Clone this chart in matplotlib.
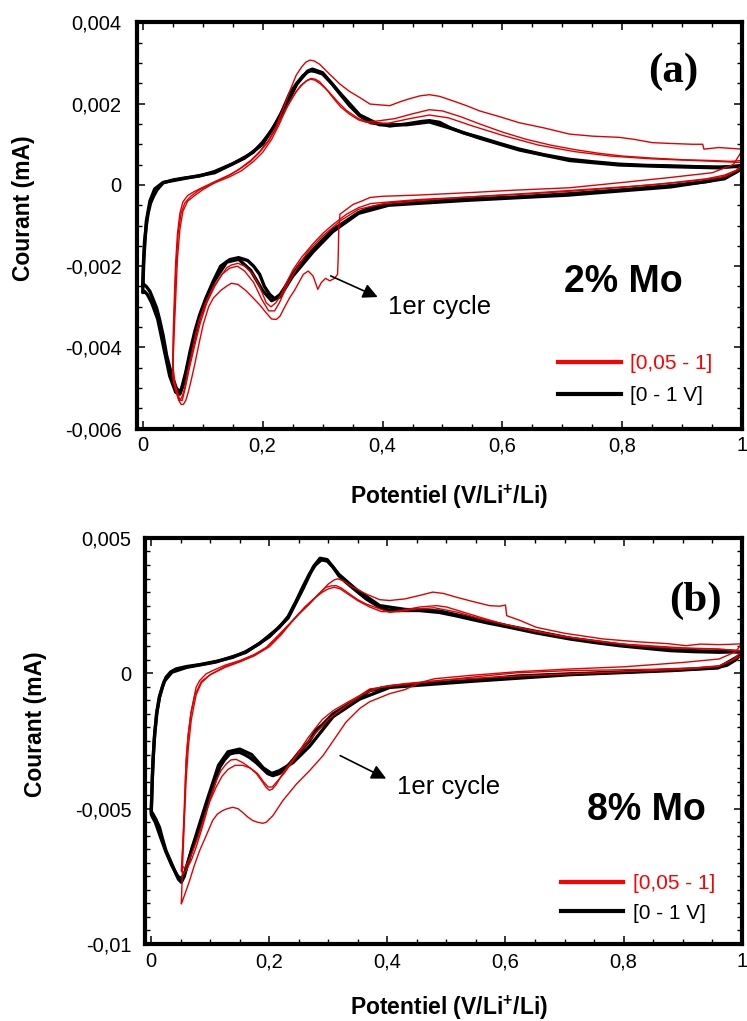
import matplotlib
matplotlib.use('Agg')
import matplotlib.pyplot as plt
from matplotlib.lines import Line2D
from matplotlib.ticker import MultipleLocator, FuncFormatter

# ---------- panel (a) : 2% Mo ----------
# black = [0 - 1 V] cycles, red = [0,05 - 1] cycles (r1 = first cycle)
a_blk1_v = [1.0, 0.99, 0.97, 0.94, 0.88, 0.80, 0.71, 0.62, 0.54, 0.46, 0.41, 0.38, 0.36, 0.34, 0.317,
            0.30, 0.284, 0.265, 0.25, 0.238, 0.229, 0.22, 0.212, 0.203, 0.195, 0.185, 0.175, 0.16, 0.145,
            0.13, 0.118, 0.105, 0.095, 0.087, 0.079, 0.072, 0.065, 0.062, 0.056, 0.048, 0.04, 0.034,
            0.028, 0.023, 0.017, 0.012, 0.006, 0.002, 0.0,
            0.0, 0.001, 0.003, 0.006, 0.009, 0.013, 0.018, 0.024, 0.034, 0.05, 0.07, 0.095, 0.12, 0.15,
            0.17, 0.184, 0.2, 0.217, 0.232, 0.245, 0.257, 0.267, 0.275, 0.281, 0.288, 0.30, 0.315, 0.329,
            0.345, 0.362, 0.38, 0.395, 0.412, 0.44, 0.465, 0.478, 0.495, 0.512, 0.535, 0.562, 0.595,
            0.628, 0.67, 0.712, 0.75, 0.795, 0.84, 0.878, 0.92, 0.961, 0.985, 1.0]
a_blk1_i = [0.00045, 0.00032, 0.00018, 0.00008, -0.00002, -0.00012, -0.00022, -0.0003, -0.00035, -0.0004,
            -0.00047, -0.00056, -0.00068, -0.00088, -0.0011, -0.00135, -0.0016, -0.0019, -0.0022, -0.0025,
            -0.0027, -0.0028, -0.0027, -0.0025, -0.0022, -0.002, -0.00186, -0.00179, -0.00184, -0.002,
            -0.00236, -0.0028, -0.0032, -0.0036, -0.0041, -0.0046, -0.005, -0.0051, -0.005, -0.00466,
            -0.0042, -0.0037, -0.0033, -0.00302, -0.0028, -0.00262, -0.0025, -0.00245, -0.0025,
            -0.0025, -0.002, -0.0014, -0.001, -0.0007, -0.00045, -0.00028, -0.00012, 0.00005, 0.00012,
            0.00017, 0.00022, 0.00033, 0.00052, 0.00068, 0.0008, 0.00105, 0.00138, 0.0018, 0.00224,
            0.0025, 0.00268, 0.00278, 0.00281, 0.00279, 0.00273, 0.0025, 0.00224, 0.00195, 0.0017,
            0.00153, 0.0015, 0.00145, 0.0015, 0.00156, 0.00158, 0.00154, 0.00141, 0.00128, 0.00117,
            0.00102, 0.00088, 0.00074, 0.00063, 0.00057, 0.00051, 0.00048, 0.00047, 0.00045, 0.00044,
            0.00045, 0.00045]
a_blk2_v = [1.0, 0.97, 0.88, 0.71, 0.54, 0.41, 0.36, 0.317, 0.284, 0.25, 0.229, 0.215, 0.2, 0.18, 0.16,
            0.14, 0.118, 0.095, 0.079, 0.068, 0.062, 0.055, 0.045, 0.035, 0.025, 0.015, 0.008, 0.003, 0.0,
            0.0, 0.002, 0.006, 0.012, 0.02, 0.034, 0.07, 0.12, 0.17, 0.2, 0.232, 0.257, 0.275, 0.283, 0.3,
            0.329, 0.362, 0.395, 0.44, 0.478, 0.512, 0.562, 0.628, 0.712, 0.795, 0.878, 0.961, 1.0]
a_blk2_i = [0.0004, 0.00015, -0.00005, -0.00025, -0.00038, -0.0005, -0.0007, -0.00115, -0.00165, -0.00225,
            -0.00275, -0.00285, -0.0026, -0.0021, -0.00183, -0.0019, -0.0024, -0.00325, -0.0042, -0.0049,
            -0.00515, -0.0051, -0.0047, -0.004, -0.0033, -0.0029, -0.0027, -0.00262, -0.00265,
            -0.00265, -0.0018, -0.0009, -0.0004, -0.0001, 0.00006, 0.00016, 0.0003, 0.00066, 0.001,
            0.00175, 0.00248, 0.0028, 0.00285, 0.00276, 0.00226, 0.00172, 0.00148, 0.00148, 0.00155,
            0.0014, 0.00115, 0.00086, 0.0006, 0.00049, 0.00045, 0.00042, 0.00048]
a_red1_v = [1.0, 0.985, 0.95, 0.878, 0.80, 0.712, 0.62, 0.545, 0.46, 0.40, 0.379, 0.365, 0.351, 0.34, 0.329,
            0.327, 0.326, 0.325, 0.32, 0.312, 0.305, 0.298, 0.292, 0.288, 0.284, 0.276, 0.268, 0.262,
            0.253, 0.245, 0.237, 0.229, 0.223, 0.215, 0.206, 0.195, 0.184, 0.172, 0.159, 0.148, 0.14,
            0.13, 0.118, 0.11, 0.101, 0.094, 0.087, 0.081, 0.076, 0.072, 0.068, 0.064, 0.06, 0.056,
            0.052, 0.05,
            0.05, 0.052, 0.055, 0.058, 0.062, 0.067, 0.075, 0.085, 0.1, 0.123, 0.145, 0.162, 0.18, 0.195,
            0.21, 0.223, 0.235, 0.245, 0.256, 0.265, 0.272, 0.279, 0.286, 0.295, 0.31, 0.329, 0.345,
            0.362, 0.379, 0.395, 0.412, 0.43, 0.445, 0.462, 0.478, 0.495, 0.517, 0.54, 0.562, 0.595,
            0.628, 0.67, 0.712, 0.75, 0.795, 0.82, 0.85, 0.88, 0.917, 0.934, 0.936, 0.961, 0.98, 1.0]
a_red1_i = [0.00085, 0.0005, 0.0003, 0.00018, 0.00006, -0.00007, -0.00013, -0.00019, -0.00025, -0.00028,
            -0.00031, -0.0004, -0.00048, -0.0006, -0.00072, -0.0011, -0.0018, -0.0022, -0.0023, -0.00236,
            -0.0023, -0.0024, -0.00257, -0.0024, -0.00224, -0.00212, -0.0022, -0.00236, -0.0026, -0.00278,
            -0.003, -0.00323, -0.00331, -0.0033, -0.00315, -0.00295, -0.00278, -0.0026, -0.00245, -0.00242,
            -0.00249, -0.0026, -0.00278, -0.003, -0.00343, -0.0039, -0.0044, -0.0048, -0.0051, -0.0053,
            -0.0054, -0.0054, -0.0053, -0.0051, -0.0049, -0.0047,
            -0.0047, -0.0038, -0.0028, -0.0018, -0.0011, -0.00065, -0.0004, -0.00028, -0.00012, 0.00008,
            0.00024, 0.0004, 0.0006, 0.00082, 0.0011, 0.00145, 0.0019, 0.0023, 0.0027, 0.0029, 0.00302,
            0.00307, 0.00305, 0.00297, 0.00275, 0.00248, 0.0023, 0.00215, 0.00199, 0.00197, 0.00195,
            0.00205, 0.00212, 0.00219, 0.00222, 0.00218, 0.00207, 0.00195, 0.00182, 0.00168, 0.00153,
            0.0014, 0.00125, 0.0012, 0.00117, 0.00112, 0.00104, 0.00102, 0.001, 0.001, 0.00088, 0.00092,
            0.0009, 0.00088]
a_red2_v = [1.0, 0.99, 0.97, 0.94, 0.88, 0.80, 0.71, 0.62, 0.54, 0.46, 0.41, 0.38, 0.36, 0.34, 0.317, 0.30,
            0.284, 0.265, 0.251, 0.24, 0.231, 0.222, 0.214, 0.206, 0.195, 0.184, 0.17, 0.159, 0.148, 0.14,
            0.128, 0.118, 0.105, 0.095, 0.088, 0.081, 0.075, 0.07, 0.066, 0.062, 0.058, 0.054, 0.05,
            0.05, 0.051, 0.053, 0.055, 0.058, 0.062, 0.067, 0.075, 0.084, 0.1, 0.123, 0.145, 0.162, 0.18,
            0.195, 0.21, 0.223, 0.235, 0.245, 0.256, 0.267, 0.275, 0.281, 0.288, 0.295, 0.305, 0.317,
            0.33, 0.345, 0.36, 0.373, 0.395, 0.42, 0.45, 0.478, 0.5, 0.53, 0.562, 0.6, 0.64, 0.68, 0.72,
            0.76, 0.8, 0.85, 0.9, 0.95, 0.98, 1.0]
a_red2_i = [0.0005, 0.00036, 0.00024, 0.00015, 0.00005, -0.00006, -0.00016, -0.00024, -0.0003, -0.00036,
            -0.00042, -0.00046, -0.00056, -0.00072, -0.00098, -0.0012, -0.00145, -0.00178, -0.00208, -0.0024,
            -0.0027, -0.0029, -0.003, -0.0029, -0.0025, -0.0022, -0.002, -0.00193, -0.00197, -0.00204,
            -0.0023, -0.0025, -0.0029, -0.0033, -0.0037, -0.0042, -0.0046, -0.005, -0.0052, -0.0053,
            -0.0051, -0.0049, -0.0044,
            -0.0044, -0.0036, -0.0027, -0.0019, -0.0012, -0.0007, -0.00042, -0.00026, -0.00018, -0.00006,
            0.0001, 0.00025, 0.00039, 0.00058, 0.0008, 0.00108, 0.00141, 0.00175, 0.00203, 0.0023,
            0.00248, 0.00258, 0.00262, 0.0026, 0.00254, 0.00238, 0.00215, 0.00192, 0.00174, 0.0016,
            0.00154, 0.00158, 0.00163, 0.00175, 0.00185, 0.00182, 0.00168, 0.0015, 0.0013, 0.00112,
            0.00098, 0.00087, 0.00078, 0.00071, 0.00066, 0.00062, 0.0006, 0.00058, 0.0006]
a_red3_v = [1.0, 0.97, 0.92, 0.85, 0.75, 0.65, 0.55, 0.46, 0.40, 0.36, 0.33, 0.30, 0.275, 0.255, 0.24, 0.228,
            0.22, 0.21, 0.198, 0.185, 0.17, 0.158, 0.145, 0.132, 0.12, 0.107, 0.096, 0.086, 0.078, 0.071,
            0.066, 0.061, 0.056, 0.052, 0.05,
            0.05, 0.052, 0.055, 0.059, 0.064, 0.07, 0.08, 0.095, 0.12, 0.145, 0.165, 0.185, 0.2, 0.215,
            0.228, 0.24, 0.252, 0.263, 0.273, 0.28, 0.287, 0.297, 0.31, 0.325, 0.34, 0.36, 0.38, 0.41,
            0.445, 0.478, 0.51, 0.55, 0.6, 0.66, 0.72, 0.78, 0.85, 0.92, 0.97, 1.0]
a_red3_i = [0.00042, 0.0002, 0.0001, 0.0, -0.0001, -0.0002, -0.00029, -0.00039, -0.00047, -0.0006, -0.00088,
            -0.00126, -0.00165, -0.0021, -0.0025, -0.0029, -0.0031, -0.0031, -0.0028, -0.0024, -0.00212,
            -0.002, -0.00205, -0.0022, -0.0025, -0.0029, -0.0034, -0.004, -0.0045, -0.005, -0.0053,
            -0.0053, -0.0051, -0.0048, -0.0046,
            -0.0046, -0.0035, -0.0022, -0.0012, -0.0007, -0.00045, -0.00028, -0.00012, 0.00005, 0.0002,
            0.00035, 0.00058, 0.0008, 0.00112, 0.0015, 0.0019, 0.0022, 0.00244, 0.00256, 0.0026, 0.00258,
            0.00248, 0.0023, 0.00205, 0.00183, 0.00163, 0.00152, 0.00152, 0.00163, 0.00172, 0.00165,
            0.00145, 0.00122, 0.00098, 0.00082, 0.00071, 0.00064, 0.0006, 0.00057, 0.00055]

# ---------- panel (b) : 8% Mo ----------
b_blk1_v = [1.0, 0.99, 0.975, 0.96, 0.92, 0.878, 0.80, 0.709, 0.62, 0.539, 0.454, 0.404, 0.37, 0.353, 0.33,
            0.308, 0.29, 0.279, 0.268, 0.251, 0.24, 0.228, 0.217, 0.206, 0.197, 0.189, 0.178, 0.166, 0.158,
            0.15, 0.142, 0.133, 0.124, 0.116, 0.105, 0.093, 0.082, 0.07, 0.062, 0.056, 0.051, 0.046,
            0.042, 0.034, 0.025, 0.019, 0.014, 0.008, 0.003, 0.0,
            0.0, 0.001, 0.003, 0.006, 0.01, 0.014, 0.019, 0.025, 0.033, 0.042, 0.06, 0.082, 0.11, 0.138,
            0.16, 0.183, 0.2, 0.217, 0.232, 0.246, 0.257, 0.268, 0.278, 0.288, 0.298, 0.308, 0.318, 0.33,
            0.347, 0.364, 0.387, 0.404, 0.43, 0.454, 0.488, 0.515, 0.539, 0.57, 0.607, 0.65, 0.709, 0.75,
            0.793, 0.84, 0.878, 0.92, 0.962, 0.985, 1.0]
b_blk1_i = [0.00075, 0.0005, 0.0003, 0.00022, 0.00016, 0.00012, 0.00005, -0.00002, -0.0001, -0.00027,
            -0.00039, -0.00049, -0.00064, -0.00089, -0.0012, -0.0015, -0.0019, -0.0021, -0.0025, -0.0029,
            -0.0032, -0.0035, -0.0037, -0.00378, -0.0037, -0.00353, -0.0033, -0.0031, -0.003, -0.00292,
            -0.00293, -0.00298, -0.0032, -0.00347, -0.0042, -0.00495, -0.0057, -0.00643, -0.007, -0.0075,
            -0.00772, -0.0076, -0.00741, -0.007, -0.00655, -0.0061, -0.00569, -0.0054, -0.0052, -0.0051,
            -0.0051, -0.0045, -0.0032, -0.0022, -0.0014, -0.0009, -0.0005, -0.00015, 0.00005, 0.00016,
            0.00025, 0.00032, 0.00044, 0.00059, 0.0008, 0.00109, 0.0014, 0.0017, 0.0021, 0.00269, 0.0032,
            0.00367, 0.004, 0.00419, 0.00415, 0.00392, 0.0036, 0.00336, 0.00305, 0.00275, 0.00244,
            0.00232, 0.00232, 0.00232, 0.00225, 0.00213, 0.00201, 0.00186, 0.0017, 0.0015, 0.00127,
            0.00114, 0.00102, 0.00092, 0.00084, 0.0008, 0.00078, 0.0008, 0.00078]
b_blk2_v = [1.0, 0.96, 0.88, 0.709, 0.539, 0.404, 0.353, 0.308, 0.268, 0.24, 0.217, 0.204, 0.19, 0.17, 0.15,
            0.13, 0.114, 0.093, 0.07, 0.058, 0.052, 0.045, 0.035, 0.025, 0.015, 0.007, 0.002, 0.0,
            0.0, 0.002, 0.005, 0.009, 0.014, 0.022, 0.035, 0.06, 0.11, 0.16, 0.2, 0.232, 0.257, 0.275,
            0.286, 0.298, 0.318, 0.347, 0.387, 0.43, 0.488, 0.539, 0.607, 0.709, 0.793, 0.878, 0.962, 1.0]
b_blk2_i = [0.0007, 0.0002, 0.0001, -0.00005, -0.0003, -0.00052, -0.00095, -0.0016, -0.0027, -0.0033,
            -0.0036, -0.0037, -0.0035, -0.003, -0.0028, -0.0029, -0.0034, -0.0048, -0.0064, -0.0073,
            -0.0076, -0.0075, -0.0071, -0.0066, -0.006, -0.0055, -0.0053, -0.0052,
            -0.0052, -0.0038, -0.0025, -0.0015, -0.00085, -0.0003, 0.00004, 0.00022, 0.00042, 0.00077,
            0.00135, 0.00205, 0.00312, 0.00395, 0.00425, 0.0042, 0.00365, 0.0031, 0.0025, 0.00236,
            0.0023, 0.00206, 0.00174, 0.0013, 0.00105, 0.00087, 0.0008, 0.0008]
b_red1_v = [1.0, 0.99, 0.962, 0.9, 0.8, 0.709, 0.62, 0.539, 0.48, 0.454, 0.43, 0.404, 0.387, 0.37, 0.353,
            0.33, 0.308, 0.291, 0.268, 0.246, 0.223, 0.206, 0.195, 0.189, 0.18, 0.172, 0.163, 0.155,
            0.147, 0.138, 0.129, 0.121, 0.112, 0.104, 0.093, 0.082, 0.073, 0.065, 0.058, 0.051,
            0.051, 0.053, 0.056, 0.059, 0.063, 0.068, 0.076, 0.085, 0.1, 0.125, 0.15, 0.175, 0.195,
            0.215, 0.234, 0.25, 0.268, 0.285, 0.3, 0.31, 0.316, 0.325, 0.34, 0.364, 0.387, 0.404, 0.43,
            0.455, 0.477, 0.495, 0.517, 0.545, 0.573, 0.59, 0.6, 0.602, 0.625, 0.652, 0.7, 0.765, 0.82,
            0.878, 0.906, 0.93, 0.96, 0.98, 1.0]
b_red1_i = [0.0011, 0.0008, 0.00053, 0.0004, 0.00024, 0.00016, 0.00006, -0.00008, -0.0002, -0.00035,
            -0.0006, -0.00075, -0.0009, -0.00105, -0.0013, -0.0018, -0.0025, -0.00304, -0.0036, -0.00409,
            -0.0047, -0.00526, -0.0055, -0.00554, -0.0055, -0.00544, -0.0053, -0.00514, -0.005, -0.00495,
            -0.005, -0.00507, -0.0052, -0.00544, -0.006, -0.00655, -0.0071, -0.00766, -0.0081, -0.00852,
            -0.0085, -0.0072, -0.0055, -0.004, -0.0027, -0.0017, -0.0008, -0.00035, -0.00005, 0.00025,
            0.00045, 0.00068, 0.00094, 0.00135, 0.0018, 0.00218, 0.00258, 0.00295, 0.0033, 0.00345,
            0.00349, 0.00342, 0.0032, 0.00293, 0.00272, 0.00269, 0.00275, 0.00288, 0.003, 0.00295,
            0.00281, 0.00265, 0.0025, 0.00248, 0.00252, 0.00213, 0.00195, 0.0017, 0.00148, 0.00127,
            0.00117, 0.00109, 0.00102, 0.00108, 0.00106, 0.00107, 0.00109]
b_red2_v = [1.0, 0.985, 0.962, 0.92, 0.85, 0.709, 0.62, 0.539, 0.454, 0.404, 0.37, 0.353, 0.33, 0.308, 0.29,
            0.279, 0.265, 0.251, 0.24, 0.229, 0.22, 0.212, 0.205, 0.2, 0.194, 0.189, 0.178, 0.166, 0.155,
            0.144, 0.135, 0.127, 0.118, 0.11, 0.1, 0.093, 0.085, 0.076, 0.068, 0.059, 0.055, 0.051,
            0.051, 0.054, 0.057, 0.059, 0.063, 0.068, 0.076, 0.082, 0.093, 0.104, 0.125, 0.15, 0.175,
            0.195, 0.215, 0.234, 0.25, 0.268, 0.282, 0.296, 0.305, 0.313, 0.322, 0.336, 0.35, 0.364,
            0.387, 0.404, 0.43, 0.455, 0.483, 0.5, 0.53, 0.56, 0.595, 0.65, 0.709, 0.76, 0.821, 0.88,
            0.934, 0.97, 1.0]
b_red2_i = [0.0008, 0.0005, 0.00028, 0.0002, 0.00015, 0.0001, 0.00002, -0.00015, -0.00035, -0.00048,
            -0.00058, -0.00082, -0.0011, -0.00138, -0.0017, -0.002, -0.0024, -0.00286, -0.0032, -0.0035,
            -0.0038, -0.0041, -0.00428, -0.00432, -0.0042, -0.00403, -0.0037, -0.00347, -0.0033, -0.00318,
            -0.0032, -0.00335, -0.0036, -0.00397, -0.0046, -0.0052, -0.0058, -0.00643, -0.0069, -0.00729,
            -0.0074, -0.0073,
            -0.0073, -0.0062, -0.0048, -0.0032, -0.0022, -0.00138, -0.00052, -0.00027, -0.00002, 0.0001,
            0.0003, 0.00047, 0.0007, 0.00096, 0.0014, 0.00183, 0.0022, 0.00256, 0.0029, 0.00318,
            0.00323, 0.00324, 0.00315, 0.00293, 0.00272, 0.00256, 0.00238, 0.00225, 0.00235, 0.00245,
            0.0025, 0.00245, 0.00225, 0.00205, 0.00183, 0.00155, 0.00133, 0.00117, 0.00102, 0.00094,
            0.0009, 0.00088, 0.00084]
b_red3_v = [1.0, 0.96, 0.9, 0.8, 0.7, 0.6, 0.5, 0.43, 0.39, 0.36, 0.33, 0.3, 0.275, 0.255, 0.238, 0.225,
            0.213, 0.205, 0.198, 0.19, 0.18, 0.168, 0.155, 0.142, 0.13, 0.12, 0.11, 0.1, 0.09, 0.08,
            0.07, 0.062, 0.056, 0.052,
            0.052, 0.055, 0.058, 0.062, 0.067, 0.074, 0.085, 0.1, 0.125, 0.15, 0.175, 0.2, 0.22, 0.24,
            0.26, 0.275, 0.29, 0.3, 0.31, 0.32, 0.335, 0.35, 0.37, 0.39, 0.42, 0.45, 0.48, 0.52, 0.56,
            0.62, 0.7, 0.8, 0.9, 0.96, 1.0]
b_red3_i = [0.00065, 0.00025, 0.00015, 0.00006, -0.00003, -0.00012, -0.00024, -0.00038, -0.0005, -0.00075,
            -0.0012, -0.0017, -0.0023, -0.0028, -0.0033, -0.0037, -0.004, -0.0042, -0.0042, -0.004,
            -0.0037, -0.0035, -0.0034, -0.0034, -0.00355, -0.0038, -0.0042, -0.0047, -0.0053, -0.006,
            -0.0066, -0.007, -0.0072, -0.0071,
            -0.0071, -0.0055, -0.0038, -0.0024, -0.0015, -0.0008, -0.0003, -0.00005, 0.00022, 0.00042,
            0.00065, 0.00098, 0.00142, 0.00196, 0.00245, 0.00275, 0.003, 0.00312, 0.00318, 0.00312,
            0.0029, 0.00268, 0.00245, 0.00228, 0.00228, 0.00238, 0.00242, 0.00225, 0.002, 0.0017,
            0.00135, 0.00108, 0.00094, 0.0009, 0.00082]

legend_labels = ['[0,05 - 1]', '[0 - 1 V]']

RED = '#e00000'


def comma(x, pos):
    if abs(x) < 1e-9:
        return '0'
    return ('%g' % round(x, 6)).replace('.', ',')


def style_axes(ax, ymin, ymax, ymajor, ypad, xpad):
    ax.set_xlim(-0.01, 1.0)
    ax.set_ylim(ymin, ymax)
    ax.xaxis.set_major_locator(MultipleLocator(0.2))
    ax.xaxis.set_minor_locator(MultipleLocator(0.05))
    ax.yaxis.set_major_locator(MultipleLocator(ymajor))
    ax.yaxis.set_minor_locator(MultipleLocator(0.0005))
    ax.xaxis.set_major_formatter(FuncFormatter(comma))
    ax.yaxis.set_major_formatter(FuncFormatter(comma))
    ax.tick_params(which='both', direction='in', top=True, right=True, labelsize=14.5)
    ax.tick_params(which='major', length=6, width=1.1)
    ax.tick_params(which='minor', length=3.5, width=1.0)
    ax.tick_params(axis='y', pad=ypad)
    ax.tick_params(axis='x', pad=xpad)
    for sp in ax.spines.values():
        sp.set_linewidth(3)


def draw_panel(ax, blacks, reds):
    for v, i in blacks:
        ax.plot(v, i, color='black', lw=2.4, solid_joinstyle='round')
    for v, i in reds:
        ax.plot(v, i, color=RED, lw=1.0)


def add_legend(ax, x, y, spacing):
    h = [Line2D([], [], color='#ff0000', lw=3), Line2D([], [], color='black', lw=3)]
    ax.legend(h, legend_labels, loc='upper left', bbox_to_anchor=(x, y), frameon=False,
              fontsize=15, handlelength=3.0, handletextpad=0.45, labelspacing=spacing,
              borderpad=0, borderaxespad=0, labelcolor=['#ff0000', 'black'])


def main():
    plt.rcParams['font.family'] = ['Liberation Sans', 'DejaVu Sans']
    plt.rcParams['mathtext.fontset'] = 'custom'
    plt.rcParams['mathtext.rm'] = 'Liberation Sans'
    plt.rcParams['mathtext.bf'] = 'Liberation Sans:bold'

    fig = plt.figure(figsize=(7.47, 10.21), dpi=100)
    xlab = r'Potentiel (V/Li$^{\mathbf{+}}$/Li)'

    # panel (a)
    ax = fig.add_axes([0.1830, 0.5801, 0.8107, 0.3980])
    draw_panel(ax, [(a_blk1_v, a_blk1_i), (a_blk2_v, a_blk2_i)],
               [(a_red2_v, a_red2_i), (a_red3_v, a_red3_i), (a_red1_v, a_red1_i)])
    style_axes(ax, -0.006, 0.004, 0.002, 11, 5.5)
    ax.set_xlabel(xlab, fontsize=16.5, fontweight='bold')
    ax.xaxis.set_label_coords(0.515, -0.168)
    ax.xaxis.label.set_va('center')
    ax.set_ylabel('Courant (mA)', fontsize=16.5, fontweight='bold')
    ax.yaxis.set_label_coords(-0.1877, 0.543)
    ax.yaxis.label.set_va('center')
    ax.text(0.8856, 0.878, '(a)', transform=ax.transAxes, ha='center', va='center',
            fontsize=31, fontweight='bold', family='Liberation Serif')
    ax.text(0.803, 0.362, '2% Mo', transform=ax.transAxes, ha='center', va='center',
            fontsize=27, fontweight='bold')
    ax.annotate('', xy=(0.392, -0.00276), xytext=(0.3136, -0.00224),
                arrowprops=dict(arrowstyle='-|>', color='black', lw=1.2,
                                mutation_scale=22, shrinkA=0, shrinkB=0))
    ax.text(0.4087, -0.003, '1er cycle', fontsize=18.5, ha='left', va='center')
    add_legend(ax, 0.6957, 0.183, 0.6)

    # panel (b)
    ax = fig.add_axes([0.1945, 0.0754, 0.7984, 0.3977])
    draw_panel(ax, [(b_blk1_v, b_blk1_i), (b_blk2_v, b_blk2_i)],
               [(b_red2_v, b_red2_i), (b_red3_v, b_red3_i), (b_red1_v, b_red1_i)])
    style_axes(ax, -0.01, 0.005, 0.005, 10, 6)
    ax.set_xlabel(xlab, fontsize=16.5, fontweight='bold')
    ax.xaxis.set_label_coords(0.509, -0.158)
    ax.xaxis.label.set_va('center')
    ax.set_ylabel('Courant (mA)', fontsize=16.5, fontweight='bold')
    ax.yaxis.set_label_coords(-0.1833, 0.542)
    ax.yaxis.label.set_va('center')
    ax.text(0.923, 0.845, '(b)', transform=ax.transAxes, ha='center', va='center',
            fontsize=31, fontweight='bold', family='Liberation Serif')
    ax.text(0.8407, 0.330, '8% Mo', transform=ax.transAxes, ha='center', va='center',
            fontsize=27, fontweight='bold')
    ax.annotate('', xy=(0.398, -0.00389), xytext=(0.32, -0.00304),
                arrowprops=dict(arrowstyle='-|>', color='black', lw=1.2,
                                mutation_scale=22, shrinkA=0, shrinkB=0))
    ax.text(0.417, -0.00421, '1er cycle', fontsize=18.5, ha='left', va='center')
    add_legend(ax, 0.6965, 0.172, 0.5)

    fig.savefig('out.png', dpi=100)


if __name__ == "__main__":
    main()
